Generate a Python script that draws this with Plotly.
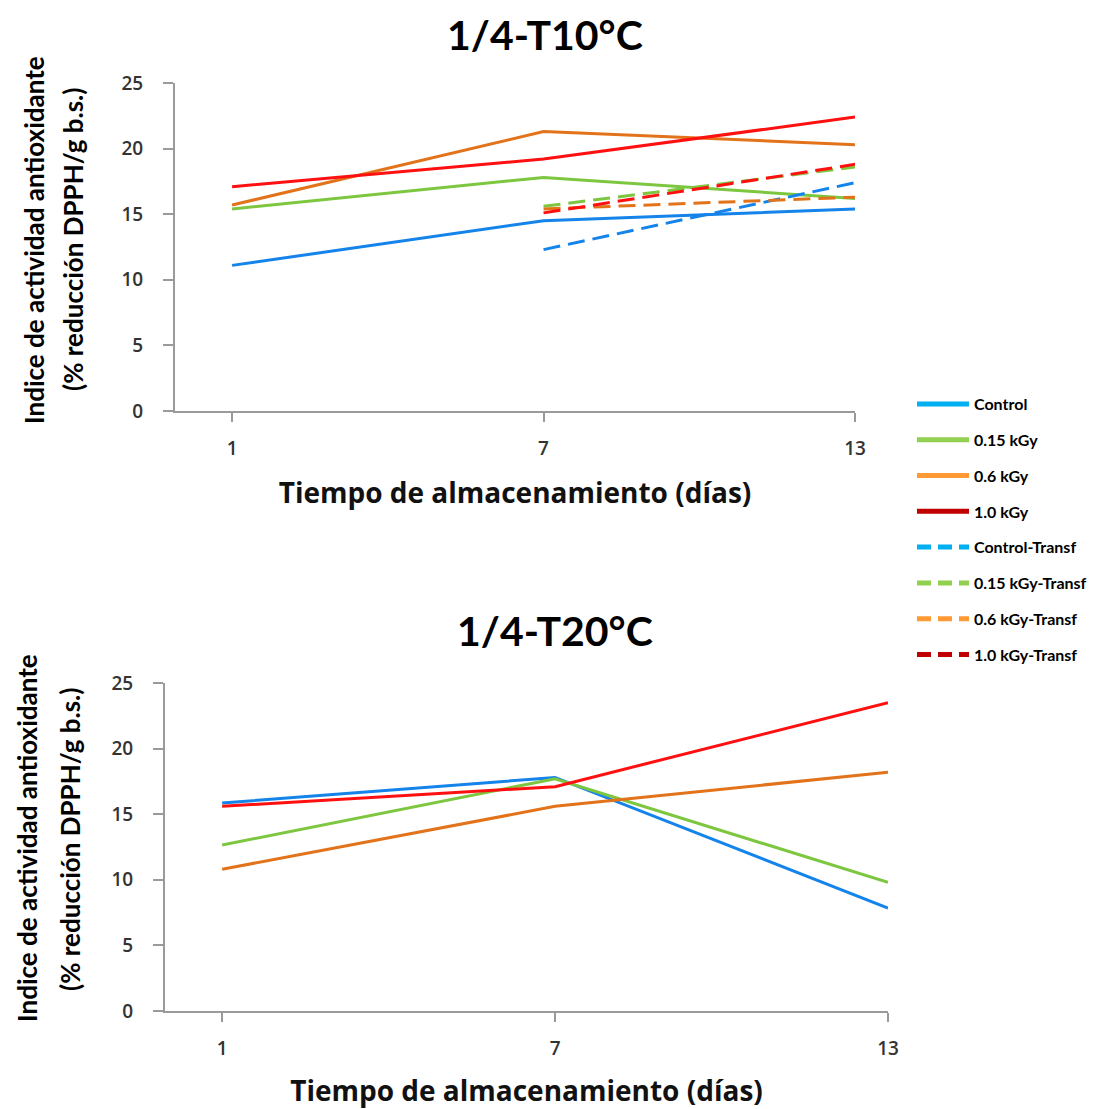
import plotly.graph_objects as go

days = [1, 7, 13]
days_transf = [7, 13]

# Top chart: 1/4-T10°C
t10_control = [11.1, 14.5, 15.4]
t10_015 = [15.4, 17.8, 16.2]
t10_06 = [15.7, 21.3, 20.3]
t10_10 = [17.1, 19.2, 22.4]
t10_control_tr = [12.3, 17.4]
t10_015_tr = [15.6, 18.6]
t10_06_tr = [15.4, 16.3]
t10_10_tr = [15.1, 18.8]

# Bottom chart: 1/4-T20°C
t20_control = [15.85, 17.8, 7.85]
t20_015 = [12.65, 17.7, 9.8]
t20_06 = [10.8, 15.6, 18.2]
t20_10 = [15.6, 17.1, 23.5]

names = ["Control", "0.15 kGy", "0.6 kGy", "1.0 kGy",
         "Control-Transf", "0.15 kGy-Transf", "0.6 kGy-Transf", "1.0 kGy-Transf"]
line_colors = ["#1483EA", "#7DC63F", "#E2731A", "#FF1010"]
legend_colors = ["#00B0F0", "#92D050", "#FF9933", "#C00000"]

yticks = [0, 5, 10, 15, 20, 25]
xticks = [1, 7, 13]

FONT = "Lato"
TICKFONT = "Open Sans"
OFF = 8  # page body margin
W = 1097 - OFF
H = 1109 - OFF

fig = go.Figure()

top_solid = [t10_control, t10_015, t10_06, t10_10]
top_dash = [t10_control_tr, t10_015_tr, t10_06_tr, t10_10_tr]
bottom_solid = [t20_control, t20_015, t20_06, t20_10]

for i, ys in enumerate(top_solid):
    fig.add_trace(go.Scatter(x=days, y=ys, mode="lines", showlegend=False,
                             line=dict(color=line_colors[i], width=3),
                             xaxis="x", yaxis="y"))
for i, ys in enumerate(top_dash):
    fig.add_trace(go.Scatter(x=days_transf, y=ys, mode="lines", showlegend=False,
                             line=dict(color=line_colors[i], width=3, dash="17px,8px"),
                             xaxis="x", yaxis="y"))
for i, ys in enumerate(bottom_solid):
    fig.add_trace(go.Scatter(x=days, y=ys, mode="lines", showlegend=False,
                             line=dict(color=line_colors[i], width=3),
                             xaxis="x2", yaxis="y2"))

# legend entries
for i, nm in enumerate(names):
    c = legend_colors[i % 4]
    dash = "solid" if i < 4 else "14px,7px"
    fig.add_trace(go.Scatter(x=[None], y=[None], mode="lines", name=nm,
                             legendgroup=nm,
                             line=dict(color=c, width=5, dash=dash),
                             xaxis="x", yaxis="y"))

def px_x(p):
    return (p - OFF) / W

def px_y(p):
    return 1 - (p - OFF) / H

axis_common = dict(showgrid=False, zeroline=False, showline=True, automargin=False,
                   linecolor="#9A9A9A", linewidth=2, ticks="outside",
                   tickcolor="#9A9A9A", tickwidth=2,
                   tickfont=dict(family=TICKFONT, size=19, color="#333333", weight=600))

xtitle_font = dict(family=TICKFONT, size=28, color="#111111", weight=700)

fig.update_layout(
    width=W, height=H,
    margin=dict(l=0, r=0, t=0, b=0, autoexpand=False),
    plot_bgcolor="white", paper_bgcolor="white",
    font=dict(family=FONT, color="black"),
    xaxis=dict(domain=[px_x(175), px_x(855)], range=[-0.1, 13], tickvals=xticks,
               ticklen=9, ticklabelstandoff=10, anchor="y",
               title=dict(text="Tiempo de almacenamiento (días)", font=xtitle_font, standoff=24),
               **axis_common),
    yaxis=dict(domain=[px_y(411), px_y(83)], range=[0, 25], tickvals=yticks,
               ticklen=10, ticklabelstandoff=16, anchor="x", **axis_common),
    xaxis2=dict(domain=[px_x(165), px_x(888)], range=[-0.03, 13], tickvals=xticks,
                ticklen=9, ticklabelstandoff=10, anchor="y2",
                title=dict(text="Tiempo de almacenamiento (días)", font=xtitle_font, standoff=24),
                **axis_common),
    yaxis2=dict(domain=[px_y(1011), px_y(683)], range=[0, 25], tickvals=yticks,
                ticklen=10, ticklabelstandoff=16, anchor="x2", **axis_common),
    legend=dict(x=px_x(912), y=px_y(387), xanchor="left", yanchor="top",
                traceorder="grouped", tracegroupgap=12,
                font=dict(family=FONT, size=16, color="black", weight=700),
                itemwidth=52, bgcolor="rgba(0,0,0,0)"),
    showlegend=True,
    annotations=[
        dict(text="<b>1/4-T10°C</b>", x=px_x(545), y=1, xref="paper", yref="paper",
             showarrow=False, font=dict(family=FONT, size=41, color="black"),
             xanchor="center", yanchor="top"),
        dict(text="<b>1/4-T20°C</b>", x=px_x(555), y=px_y(630), xref="paper", yref="paper",
             showarrow=False, font=dict(family=FONT, size=41, color="black"),
             xanchor="center", yanchor="middle"),
        dict(text="<b>Indice de actividad antioxidante</b>",
             x=px_x(34), y=px_y(240), xref="paper", yref="paper", textangle=-90,
             showarrow=False, font=dict(family=FONT, size=26, color="black"),
             xanchor="center", yanchor="middle"),
        dict(text="<b>(% reducción DPPH/g b.s.)</b>",
             x=px_x(73), y=px_y(240), xref="paper", yref="paper", textangle=-90,
             showarrow=False, font=dict(family=FONT, size=26, color="black"),
             xanchor="center", yanchor="middle"),
        dict(text="<b>Indice de actividad antioxidante</b>",
             x=px_x(27), y=px_y(838), xref="paper", yref="paper", textangle=-90,
             showarrow=False, font=dict(family=FONT, size=26, color="black"),
             xanchor="center", yanchor="middle"),
        dict(text="<b>(% reducción DPPH/g b.s.)</b>",
             x=px_x(70), y=px_y(840), xref="paper", yref="paper", textangle=-90,
             showarrow=False, font=dict(family=FONT, size=26, color="black"),
             xanchor="center", yanchor="middle"),
    ],
)

fig.write_html("out.html")
